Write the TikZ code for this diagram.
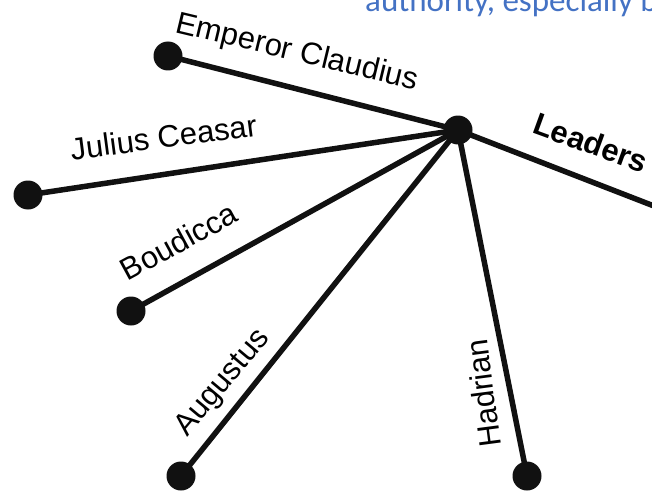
\documentclass[tikz,border=0pt]{standalone}
\usepackage{fontspec}
\setmainfont{Liberation Sans}
\newfontfamily\calfont{Carlito}
\definecolor{ink}{HTML}{111111}
\definecolor{topblue}{HTML}{4472C4}
\begin{document}
\begin{tikzpicture}[x=1pt,y=-1pt,
  dot/.style={circle,fill=ink,inner sep=0pt,minimum size=29pt},
  conn/.style={draw=ink,line width=5.5pt},
  lbl/.style={font=\fontsize{31}{33}\selectfont,text=black,anchor=base,inner sep=0pt},
  blbl/.style={lbl,font=\fontsize{31}{33}\selectfont\bfseries}]
\useasboundingbox (0,0) rectangle (652,492);
\clip (0,0) rectangle (652,492);
\fill[white] (0,0) rectangle (652,492);
% top cut-off text
\node[font=\calfont\fontsize{33}{35}\selectfont,text=topblue,anchor=base west,inner sep=0pt] (top) at (365,12) {authority, especially by};
% nodes
\node[dot] (hub) at (458,130) {};
\node[dot] (claudius) at (168,56) {};
\node[dot] (julius) at (28,195) {};
\node[dot] (boudicca) at (131,311) {};
\node[dot] (augustus) at (181,476) {};
\node[dot] (hadrian) at (527,476) {};
\coordinate (leadend) at (672,213);
% connectors
\draw[conn] (hub.center) -- (claudius.center);
\draw[conn] (hub.center) -- (julius.center);
\draw[conn] (hub.center) -- (boudicca.center);
\draw[conn] (hub.center) -- (augustus.center);
\draw[conn] (hub.center) -- (hadrian.center);
\draw[conn] (hub.center) -- (leadend);
% labels
\node[lbl,rotate=-13.5] (lclaudius) at (295,61) {Emperor Claudius};
\node[lbl,rotate=7.5] (ljulius) at (165,148) {Julius Ceasar};
\node[lbl,rotate=28.5] (lboudicca) at (184,251) {Boudicca};
\node[lbl,rotate=50] (laugustus) at (229,388) {Augustus};
\node[lbl,rotate=97.5] (lhadrian) at (494,392) {Hadrian};
\node[blbl,rotate=-20] (lleaders) at (587,153) {Leaders};
\end{tikzpicture}
\end{document}
